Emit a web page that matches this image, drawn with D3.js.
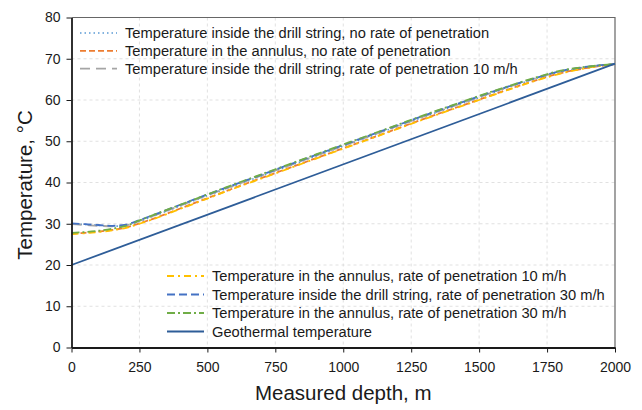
<!DOCTYPE html>
<html><head><meta charset="utf-8">
<script src="https://cdn.jsdelivr.net/npm/d3@7"></script>
<style>body{margin:0;background:#fff;}svg{display:block;font-family:"Liberation Sans",Arial,sans-serif;}</style>
</head><body><svg id="c" width="642" height="410"></svg>
<script>
const depths = [0,50,100,150,200,250,300,400,500,600,700,800,900,1000,1100,1200,1300,1400,1500,1600,1700,1800,1900,2000];
const drillNoRop   = [30.0,29.8,29.6,29.4,29.6,30.6,31.8,34.3,36.8,39.2,41.6,44.0,46.4,48.8,51.2,53.6,56.0,58.3,60.6,62.9,65.0,66.8,68.0,68.7];
const annNoRop     = [27.6,27.8,28.1,28.5,29.1,30.1,31.2,33.7,36.2,38.7,41.1,43.5,45.9,48.3,50.7,53.1,55.5,57.8,60.1,62.4,64.6,66.5,67.8,68.7];
const drillRop10   = [29.9,29.7,29.5,29.4,29.6,30.7,31.9,34.4,36.9,39.3,41.7,44.1,46.5,48.9,51.3,53.7,56.1,58.4,60.7,63.0,65.1,66.9,68.0,68.7];
const annRop10     = [27.5,27.7,28.0,28.4,29.0,30.0,31.1,33.6,36.1,38.6,41.0,43.4,45.8,48.2,50.6,53.0,55.4,57.7,60.0,62.3,64.5,66.4,67.8,68.7];
const drillRop30   = [30.1,29.9,29.7,29.5,29.8,30.9,32.1,34.6,37.1,39.5,41.9,44.3,46.7,49.1,51.5,53.9,56.3,58.6,60.9,63.1,65.2,67.0,68.1,68.7];
const annRop30     = [27.8,28.0,28.3,28.8,29.5,30.8,32.1,34.6,37.1,39.6,42.0,44.4,46.8,49.2,51.6,54.0,56.4,58.7,61.0,63.2,65.3,67.1,68.1,68.7];
const geoDepths = [0,2000];
const geothermal = [20.0,68.8];
const xTicks = [0,250,500,750,1000,1250,1500,1750,2000];
const yTicks = [0,10,20,30,40,50,60,70,80];

const seriesNames = [
 "Temperature inside the drill string, no rate of penetration",
 "Temperature in the annulus, no rate of penetration",
 "Temperature inside the drill string, rate of penetration 10 m/h",
 "Temperature in the annulus, rate of penetration 10 m/h",
 "Temperature inside the drill string, rate of penetration 30 m/h",
 "Temperature in the annulus, rate of penetration 30 m/h",
 "Geothermal temperature"
];
const seriesVals = [drillNoRop, annNoRop, drillRop10, annRop10, drillRop30, annRop30, geothermal];
const styles = [
 {c:"#5b9bd5", d:"1.5,3", w:1.6},
 {c:"#ed7d31", d:"6,3", w:1.8},
 {c:"#a5a5a5", d:"10,6", w:1.8},
 {c:"#ffc000", d:"7,4,2,4", w:1.8},
 {c:"#4472c4", d:"8,4", w:1.8},
 {c:"#70ad47", d:"8,3,2,3", w:1.8},
 {c:"#2e5d98", d:null, w:1.8}
];

const svg = d3.select("#c");
const L=71.5, R=615, T=17.5, B=347.5;
const x = d3.scaleLinear().domain([0,2000]).range([L,R]);
const y = d3.scaleLinear().domain([0,80]).range([B,T]);

// grid
svg.append("g").selectAll("line").data(yTicks.slice(1,-1)).join("line")
 .attr("x1",L).attr("x2",R).attr("y1",d=>y(d)).attr("y2",d=>y(d))
 .attr("stroke","#d9d9d9").attr("stroke-dasharray","3,3").attr("stroke-width",0.8);
svg.append("g").selectAll("line").data(xTicks.slice(1,-1)).join("line")
 .attr("y1",T).attr("y2",B).attr("x1",d=>x(d)).attr("x2",d=>x(d))
 .attr("stroke","#d9d9d9").attr("stroke-dasharray","3,3").attr("stroke-width",0.8);
// frame
svg.append("path").attr("d",`M${L},${T}H${R}V${B}`).attr("fill","none").attr("stroke","#666").attr("stroke-width",1.2);

// lines
seriesVals.forEach((vals,i)=>{
  const ds = i===6 ? geoDepths : depths;
  const pts = vals.map((v,k)=>[x(ds[k]), y(v)]);
  svg.append("path").attr("d", d3.line().curve(d3.curveMonotoneX)(pts))
   .attr("fill","none").attr("stroke",styles[i].c).attr("stroke-width",styles[i].w)
   .attr("stroke-dasharray",styles[i].d);
});

// axes
const xAxis = svg.append("g").attr("transform",`translate(0,${B})`)
 .call(d3.axisBottom(x).tickValues(xTicks).tickFormat(d3.format("d")).tickSize(5).tickSizeOuter(0).tickPadding(10));
const yAxis = svg.append("g").attr("transform",`translate(${L},0)`)
 .call(d3.axisLeft(y).tickValues(yTicks).tickFormat(d3.format("d")).tickSize(5).tickSizeOuter(0).tickPadding(6));
[xAxis,yAxis].forEach(a=>{
  a.select(".domain").attr("stroke","#1a1a1a").attr("stroke-width",1.8);
  a.selectAll(".tick line").attr("stroke","#1a1a1a").attr("stroke-width",1);
  a.selectAll(".tick text").attr("font-size",14).attr("fill","#1a1a1a").attr("font-family","Liberation Sans, Arial, sans-serif");
});

// axis titles
svg.append("text").attr("x",(L+R)/2).attr("y",400).attr("text-anchor","middle")
 .attr("font-size",20.5).attr("fill","#1a1a1a").text("Measured depth, m");
svg.append("text").attr("transform",`translate(32,185) rotate(-90)`).attr("text-anchor","middle")
 .attr("font-size",20.5).attr("fill","#1a1a1a").text("Temperature, °C");

// legends
function legend(idx, x0, y0, dy){
  idx.forEach((i,k)=>{
    const yy = y0 + k*dy;
    svg.append("line").attr("x1",x0).attr("x2",x0+37).attr("y1",yy).attr("y2",yy)
      .attr("stroke",styles[i].c).attr("stroke-width",styles[i].w).attr("stroke-dasharray",styles[i].d);
    svg.append("text").attr("x",x0+45).attr("y",yy).attr("dy","0.35em")
      .attr("font-size",14.7).attr("fill","#1a1a1a").text(seriesNames[i]);
  });
}
legend([0,1,2], 80, 33, 17.8);
legend([3,4,5,6], 167, 276, 18.5);
</script></body></html>
